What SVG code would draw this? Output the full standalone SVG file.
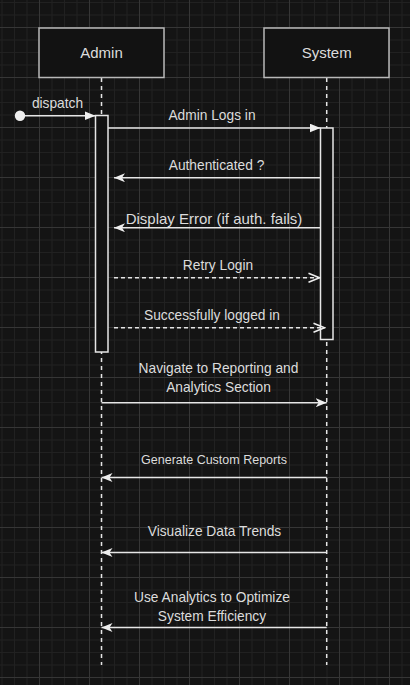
<svg xmlns="http://www.w3.org/2000/svg" width="410" height="685" viewBox="0 0 410 685">
<defs>
<pattern id="grid" x="39" y="27" width="50" height="50" patternUnits="userSpaceOnUse">
<rect x="0" y="0" width="50" height="50" fill="#141414"/>
<g fill="#212121">
<rect x="12.5" y="0" width="1" height="50"/><rect x="25" y="0" width="1" height="50"/><rect x="37.5" y="0" width="1" height="50"/>
<rect x="0" y="12.5" width="50" height="1"/><rect x="0" y="25" width="50" height="1"/><rect x="0" y="37.5" width="50" height="1"/>
</g>
<g fill="#363636">
<rect x="0" y="0" width="1" height="50"/><rect x="0" y="0" width="50" height="1"/>
</g>
</pattern>
<marker id="block" viewBox="0 0 11 9" refX="11" refY="4.5" markerWidth="11" markerHeight="9" markerUnits="userSpaceOnUse" orient="auto">
<path d="M0,0 L11,4.5 L0,9 Z" fill="#eeeeee"/>
</marker>
<marker id="classic" viewBox="0 0 11 9" refX="11" refY="4.5" markerWidth="11" markerHeight="9" markerUnits="userSpaceOnUse" orient="auto">
<path d="M0,0 L11,4.5 L0,9 L3,4.5 Z" fill="#eeeeee"/>
</marker>
<marker id="open" viewBox="-1 -1 13 11" refX="11" refY="4.5" markerWidth="13" markerHeight="11" markerUnits="userSpaceOnUse" orient="auto">
<path d="M0,0 L11,4.5 L0,9" fill="none" stroke="#eeeeee" stroke-width="1.5"/>
</marker>
</defs>
<style>
.box{fill:#121212;stroke:#b8b8b8;stroke-width:1.5}
.act{fill:#121212;stroke:#e6e6e6;stroke-width:1.5}
.life{stroke:#e6e6e6;stroke-width:1.5;stroke-dasharray:4 4;fill:none}
.msg{stroke:#e6e6e6;stroke-width:1.5;fill:none}
.dash{stroke-dasharray:4 3}
text{font-family:"Liberation Sans",Arial,sans-serif;fill:#dcdcdc;text-anchor:middle;font-size:13.75px}
.big{font-size:15px}
.sm{font-size:12.5px}
</style>
<rect x="0" y="0" width="410" height="685" fill="url(#grid)"/>

<g id="lifelines">
<line class="life" x1="101.5" y1="78" x2="101.5" y2="665"/>
<line class="life" x1="326.7" y1="78" x2="326.7" y2="665"/>
</g>

<g id="admin">
<rect class="box" x="39" y="28" width="125" height="49.5"/>
<text class="big" x="101.5" y="58">Admin</text>
</g>
<g id="system">
<rect class="box" x="264" y="28" width="125" height="49.5"/>
<text class="big" x="326.7" y="58">System</text>
</g>

<g id="admin-activation">
<rect class="act" x="95.5" y="115.5" width="12.5" height="236.5"/>
</g>
<g id="system-activation">
<rect class="act" x="320.5" y="128" width="12.5" height="211.5"/>
</g>

<g id="start">
<circle cx="20" cy="115.7" r="5.2" fill="#eeeeee"/>
</g>

<g id="connectors">
<line class="msg" x1="25" y1="115.7" x2="95.5" y2="115.7" marker-end="url(#block)"/>
<line class="msg" x1="108" y1="128" x2="320.5" y2="128" marker-end="url(#block)"/>
<line class="msg" x1="320.5" y1="177.7" x2="114" y2="177.7" marker-end="url(#classic)"/>
<line class="msg" x1="320.5" y1="227.7" x2="114" y2="227.7" marker-end="url(#classic)"/>
<line class="msg dash" x1="114" y1="277.7" x2="319.5" y2="277.7" marker-end="url(#open)"/>
<line class="msg dash" x1="114" y1="327.7" x2="324.5" y2="327.7" marker-end="url(#open)"/>
<line class="msg" x1="101.5" y1="402.7" x2="326.7" y2="402.7" marker-end="url(#classic)"/>
<line class="msg" x1="326.7" y1="477.5" x2="101.5" y2="477.5" marker-end="url(#classic)"/>
<line class="msg" x1="326.7" y1="552.5" x2="101.5" y2="552.5" marker-end="url(#classic)"/>
<line class="msg" x1="326.7" y1="627.5" x2="101.5" y2="627.5" marker-end="url(#classic)"/>
</g>

<g id="labels">
<text x="57.5" y="107.5">dispatch</text>
<text x="212" y="120">Admin Logs in</text>
<text x="216.5" y="169.5">Authenticated ?</text>
<text class="big" x="214" y="224">Display Error (if auth. fails)</text>
<text x="218" y="270">Retry Login</text>
<text x="212" y="319.5">Successfully logged in</text>
<text x="218.5" y="372.5">Navigate to Reporting and</text>
<text x="218.5" y="391.5">Analytics Section</text>
<text class="sm" x="214" y="463.5">Generate Custom Reports</text>
<text x="214.5" y="535.5">Visualize Data Trends</text>
<text x="212" y="601.5">Use Analytics to Optimize</text>
<text x="212" y="620.5">System Efficiency</text>
</g>
</svg>
